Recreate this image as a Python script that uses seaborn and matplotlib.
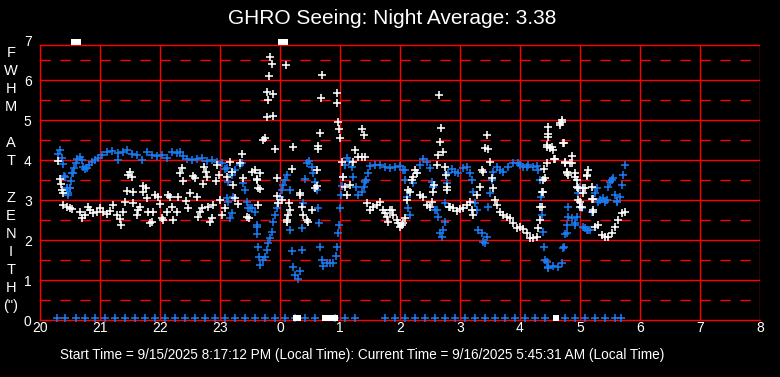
import matplotlib
matplotlib.use("Agg")
import matplotlib.pyplot as plt
import seaborn as sns
import numpy as np

# ---------------- data: (minutes after 20:00, FWHM arcsec) ----------------
hour_labels = ["20", "21", "22", "23", "0", "1", "2", "3", "4", "5", "6", "7", "8"]
y_labels = ["0", "1", "2", "3", "4", "5", "6", "7"]

blue_points = [
    (18.3, 4.14), (20, 4.25), (21.7, 4.06), (23.3, 3.89), (24, 3.6), (25, 3.58), (26.7, 3.31), (26.7, 3.29),
    (28.3, 3.12), (28.3, 3.17), (30, 3.31), (30, 3.29), (31, 3.47), (31.7, 3.67), (32.7, 3.67), (34, 3.79),
    (36, 3.92), (37.3, 4.02), (40, 4.07), (41.7, 4.0), (43.3, 3.83), (45, 3.77), (46.7, 3.79), (49.3, 3.87),
    (51.7, 3.96), (55, 4.0), (58.3, 4.04), (61.7, 4.12), (66.7, 4.21), (71.7, 4.22), (78.3, 4.17), (78, 4.0),
    (83.3, 4.21), (87.3, 4.25), (91.7, 4.14), (96.7, 4.12), (101.7, 4.0), (106.7, 4.21), (111.7, 4.12),
    (116.7, 4.11), (121.7, 4.12), (126.7, 4.04), (131.7, 4.19), (136.7, 4.17), (140, 4.21), (143.3, 4.11),
    (146.7, 4.02), (151.7, 4.0), (156.7, 4.02), (161.7, 4.04), (166.7, 3.98), (171.7, 4.0), (176.7, 3.96),
    (181.7, 3.92), (185, 3.77), (186.7, 3.79), (188.3, 3.46), (191.7, 3.62), (195, 3.75), (200, 3.87),
    (201.7, 3.92), (203.3, 3.43), (205, 3.25), (186.7, 3.04), (188.3, 2.96), (193.3, 3.08), (191.7, 2.67),
    (190, 2.56), (206.7, 2.96), (208.3, 2.79), (211.7, 2.79), (215, 2.71), (216.7, 2.37), (217.3, 2.14),
    (218.3, 1.83), (219.3, 1.58), (216.7, 2.33), (210, 2.79), (220, 1.37), (223.3, 1.5), (225, 1.58),
    (226.7, 1.75), (228.3, 1.92), (230, 2.04), (231.7, 2.21), (233.3, 2.46), (235, 2.62), (236.7, 2.79),
    (238.3, 2.92), (240, 3.08), (241.7, 3.25), (243.3, 3.37), (245, 3.5), (246.7, 3.62), (250, 3.25),
    (250, 2.25), (251.7, 1.72), (252.7, 1.33), (255, 1.12), (258.3, 1.02), (260, 1.23), (261.7, 1.75),
    (262.3, 2.29), (263.3, 2.93), (265, 3.52), (266.7, 3.93), (269.3, 3.98), (271.7, 3.83), (273.3, 3.68),
    (275, 3.46), (276.7, 3.25), (278.3, 2.79), (279.3, 2.43), (280, 1.83), (281.7, 1.5), (283.3, 1.35),
    (286.7, 1.43), (290, 1.43), (293.3, 1.43), (296, 1.6), (297.3, 1.82), (298.3, 2.17), (299.3, 2.37),
    (300, 2.79), (300.7, 3.12), (301.7, 3.35), (303.3, 3.58), (305, 3.87), (306.7, 4.04), (309.3, 3.98),
    (311.7, 3.83), (313.3, 3.58), (316, 3.33), (318.3, 3.12), (321.7, 3.21), (324, 3.33), (326, 3.5),
    (328.3, 3.67), (330, 3.85), (335, 3.87), (340, 3.87), (345, 3.83), (350, 3.81), (355, 3.83), (360, 3.85),
    (363.3, 3.75), (365, 3.75), (365, 3.5), (366.7, 3.08), (368.3, 2.79), (370, 2.62), (373.3, 3.42),
    (376.7, 3.67), (380, 3.87), (383.3, 4.02), (386.7, 3.96), (390, 3.79), (391.7, 3.46), (393.3, 3.33),
    (395, 2.75), (396.7, 2.75), (398.3, 2.58), (400, 2.17), (401.7, 2.08), (403.3, 2.25), (405, 2.92),
    (405, 2.46), (406.7, 3.42), (408.3, 3.67), (411.7, 3.77), (415, 3.71), (418.3, 3.67), (423.3, 3.79),
    (426.7, 3.83), (430, 3.67), (431.7, 3.5), (433.3, 3.21), (435, 2.92), (436.7, 2.75), (438.3, 2.25),
    (441.7, 2.17), (443.3, 1.96), (445, 1.92), (446.7, 2.08), (448.3, 2.83), (450, 3.17), (451.7, 3.5),
    (453.3, 3.71), (456.7, 3.83), (460, 3.75), (463.3, 3.71), (468.3, 3.83), (473.3, 3.92), (478.3, 3.93),
    (480, 3.87), (483.3, 3.83), (486.7, 3.83), (488.3, 3.87), (493.3, 3.83), (496.7, 3.85), (498.3, 3.75),
    (500, 3.5), (500.7, 3.08), (501.7, 2.62), (503.3, 2.21), (504.3, 1.83), (505, 1.5), (506.7, 1.46),
    (508.3, 1.33), (508.3, 1.29), (513.3, 1.35), (518.3, 1.33), (521.7, 1.42), (523.3, 1.79), (524.3, 1.82),
    (525, 2.15), (526.7, 2.17), (526.7, 2.37), (528.3, 2.58), (528.3, 2.83), (531.7, 2.54), (535, 2.37),
    (535, 2.42), (536.7, 2.58), (538.3, 3.17), (540, 3.33), (541.7, 2.79), (543.3, 2.33), (545, 2.29),
    (546.7, 2.25), (548.3, 2.25), (550, 2.25), (551.7, 2.71), (555, 3.17), (556.7, 3.29), (558.3, 2.96),
    (560, 3.0), (563.3, 3.04), (565, 2.96), (566.7, 3.0), (568.3, 3.33), (570, 3.46), (571.7, 3.5),
    (573.3, 3.54), (575, 3.12), (576.7, 2.96), (577.3, 2.98), (580, 3.08), (581.7, 3.37), (583.3, 3.62),
    (585, 3.87), (325, 3.46),
]

white_points = [
    (18.3, 3.97), (20, 3.52), (20.7, 3.39), (21.7, 3.25), (22.7, 3.17), (23.3, 2.87), (26.7, 2.83), (30, 2.79),
    (31.7, 2.77), (40, 2.69), (41.7, 2.56), (45, 2.62), (48.3, 2.83), (50, 2.75), (53.3, 2.67), (56.7, 2.71),
    (60, 2.79), (63.3, 2.71), (66.7, 2.64), (70, 2.72), (73.3, 2.87), (76.7, 2.62), (80, 2.52), (80.7, 2.37),
    (83.3, 2.71), (85, 2.94), (86.7, 3.22), (88.3, 3.62), (90, 3.71), (91.7, 3.58), (92.7, 3.21), (93.3, 2.92),
    (96.7, 2.62), (98.3, 2.75), (100, 2.83), (102.7, 3.21), (103.3, 3.36), (106, 3.29), (107.3, 3.04),
    (110, 2.42), (111.7, 2.46), (108.3, 2.69), (113.3, 2.71), (115, 3.12), (118.3, 3.08), (120, 2.89),
    (121.7, 2.54), (123.3, 2.5), (126.7, 2.71), (128.3, 3.12), (130, 3.08), (131.7, 2.83), (133.3, 2.5),
    (136.7, 2.71), (138.3, 3.08), (140, 3.67), (141.7, 3.79), (143.3, 3.47), (145.7, 2.97), (148.3, 2.79),
    (150, 3.17), (152.7, 3.61), (155, 3.54), (156.7, 3.08), (158.3, 2.58), (160, 2.71), (161.7, 2.79),
    (162.7, 3.39), (164, 3.83), (165.7, 3.71), (166.7, 3.58), (168.3, 2.83), (170, 2.46), (171.7, 2.56),
    (173.3, 2.87), (175.7, 3.47), (176.7, 3.87), (179, 3.62), (180, 3.0), (181.7, 2.62), (185, 2.79),
    (187.3, 3.58), (190, 3.96), (191.7, 3.71), (193.3, 3.37), (195, 3.04), (198.3, 2.89), (200, 3.92),
    (202.3, 4.14), (203.3, 3.56), (206.7, 2.58), (209.3, 2.54), (211.7, 3.71), (215, 3.75), (216.7, 3.5),
    (218.3, 3.29), (218.3, 2.87), (220, 3.67), (220, 3.27), (216.7, 3.52),
    (223.3, 4.5), (225, 4.54), (235, 4.27), (226.7, 5.08), (233.3, 5.1), (228.3, 5.5), (232.7, 5.65),
    (227.3, 5.71), (229.3, 6.1), (231.7, 6.4), (230, 6.57), (236.7, 3.54), (236.7, 3.1), (238.3, 2.92),
    (241.7, 3.0), (249.3, 2.92), (248.3, 2.62), (247.3, 2.46), (250, 2.75), (252.3, 3.77), (253.3, 4.32),
    (246, 6.37), (246.7, 2.5), (260, 3.17), (260, 3.12), (261.7, 2.83), (263.3, 2.62), (266.7, 2.5),
    (268.3, 2.46), (271.7, 2.75), (275, 3.29), (276.7, 3.35), (277.3, 3.75), (278.3, 4.35), (280, 4.67),
    (278.3, 4.27), (281.7, 6.12), (281, 5.54), (296.7, 5.68), (297.3, 5.43), (298.3, 4.96), (299.3, 4.77),
    (300, 4.54), (301.7, 3.96), (302.7, 3.58), (305, 3.33), (306.7, 3.12), (310, 3.37), (313.3, 3.96),
    (315, 4.25), (318.3, 4.08), (321.7, 4.08), (325, 4.08), (321.7, 4.77), (324, 4.62), (326.7, 2.92),
    (330, 2.75), (333.3, 2.83), (336.7, 2.87), (340, 2.94), (343.3, 2.75), (345, 2.67), (346.7, 2.58),
    (348.3, 2.46), (350, 2.75), (351.7, 2.75), (353.3, 2.62), (356.7, 2.5), (358.3, 2.42), (360, 2.33),
    (361.7, 2.37), (363.3, 2.43), (365, 2.54), (366.7, 3.0), (368.3, 3.25), (370, 3.21), (371.7, 3.5),
    (373.3, 3.58), (375, 3.75), (376.7, 3.67), (380, 3.12), (383.3, 3.08), (386.7, 2.87), (390, 2.82),
    (391.7, 2.96), (393.3, 3.21), (394, 3.37), (396.7, 3.87), (398.3, 4.12), (399.3, 5.62), (400, 4.46),
    (400.7, 4.79), (403.3, 4.19), (405, 3.83), (406, 3.62), (406.7, 3.25), (407.3, 3.33), (409.3, 2.83),
    (410, 2.83), (413.3, 2.79), (416.7, 2.73), (420, 2.77), (423.3, 2.79), (426.7, 2.87), (430, 2.96),
    (431.7, 2.75), (433.3, 2.62), (436.7, 3.12), (440, 3.33), (441.7, 3.75), (443.3, 3.71), (446.7, 4.62),
    (445, 4.29), (448.3, 4.27), (450, 3.96), (451.7, 3.54), (453.3, 3.29), (455, 3.0), (456.7, 2.87),
    (460, 2.71), (463.3, 2.62), (466.7, 2.58), (470, 2.54), (473.3, 2.42), (476.7, 2.29), (480, 2.33),
    (483.3, 2.27), (486.7, 2.17), (490, 2.04), (493.3, 2.04), (496.7, 2.08), (498.3, 2.29), (500, 2.5),
    (500, 2.83), (501.7, 2.83), (501.7, 3.21), (503.3, 3.21), (503.3, 3.5), (504, 3.77), (505, 3.54),
    (506.7, 3.92), (506.7, 4.37), (507.3, 4.33), (508.3, 4.58), (508.3, 4.83), (508.3, 4.65), (510, 4.29),
    (511.7, 4.33), (513.3, 4.25), (514, 4.02), (515, 4.02), (520, 4.92), (520, 4.88), (521.7, 4.96),
    (521.7, 5.0), (523.3, 4.42), (524, 4.42), (525, 3.96), (525, 3.93), (526.7, 3.67), (526.7, 3.71),
    (528.3, 3.62), (530, 3.92), (531.7, 3.92), (531.7, 4.1), (535, 3.58), (535, 3.67), (536.7, 3.5),
    (536.7, 3.32), (538.3, 3.29), (538.3, 3.0), (540, 2.96), (540, 2.83), (541.7, 2.83), (543.3, 3.29),
    (543.3, 3.17), (545, 3.29), (546.7, 3.62), (546.7, 3.6), (548.3, 3.75), (551.7, 3.33), (551.7, 3.02),
    (553.3, 3.02), (553.3, 2.75), (553.3, 2.71), (555, 2.33), (558.3, 2.37), (561.7, 2.12), (565, 2.08),
    (568.3, 2.08), (571.7, 2.17), (575, 2.33), (578.3, 2.5), (581.7, 2.67), (585, 2.71),
]

# zero-value row of blue points along the bottom
zero_row_t = [17, 25, 35.7, 45, 55, 65, 75, 85, 95, 105, 115, 125, 135, 145, 155, 165, 175, 185, 195, 205,
              215, 225, 235, 245, 255, 265, 275, 295, 305, 315, 345, 355, 365, 375, 385, 395, 405, 415,
              425, 435, 445, 455, 465, 475, 485, 495, 505, 525, 535, 545, 555, 565, 575, 581]
zero_row_v = [0.05] * len(zero_row_t)

# white points clipped at the bottom (0) and top (7) of the scale
white_low_t = [256, 258, 285, 287, 289, 291, 293, 295, 516]
white_high_t = [34, 36, 38, 241, 243, 245]

title = "GHRO Seeing: Night Average: 3.38"
footer = "Start Time = 9/15/2025 8:17:12 PM (Local Time): Current Time = 9/16/2025 5:45:31 AM (Local Time)"
ylabel_letters = ["F", "W", "H", "M", "", "A", "T", "", "Z", "E", "N", "I", "T", "H", "(\")"]

# ---------------- styling ----------------
sns.set_theme(style="dark")
plt.rcParams['font.family'] = ['Liberation Sans', 'DejaVu Sans']
plt.rcParams['lines.scale_dashes'] = False

BLUE = "#1a7cf2"
RED = "#ff0000"
LW = 1.0
fig = plt.figure(figsize=(7.8, 3.77), dpi=100, facecolor="black")
ax = fig.add_axes([40 / 780, 57 / 377, 720 / 780, 280 / 377])
ax.set_facecolor("black")
ax.set_xlim(0, 12)
ax.set_ylim(0, 7)
TOP = 6.875

# grid
ax.vlines(np.arange(1, 13), 0, TOP, color=RED, lw=LW, zorder=1)
ax.hlines(np.arange(1, 7), 0, 12, color=RED, lw=LW, zorder=1)
ax.hlines([TOP], 0, 12, color=RED, lw=LW, zorder=1)
ax.hlines(np.arange(0.5, 7, 1.0), 0, 12, color=RED, lw=LW, zorder=1,
          linestyles=[(0, (7.4, 7.0))])
for s in ["top", "right"]:
    ax.spines[s].set_visible(False)
for s in ["left", "bottom"]:
    ax.spines[s].set_color(RED)
    ax.spines[s].set_linewidth(LW)
ax.spines["left"].set_bounds(0, TOP)

bt = np.array([p[0] for p in blue_points]) / 60.0
bv = np.array([p[1] for p in blue_points])
wt = np.array([p[0] for p in white_points]) / 60.0
wv = np.array([p[1] for p in white_points])
sns.scatterplot(x=bt, y=bv, marker="+", color=BLUE, s=32, linewidth=1.15, ax=ax, zorder=3)
sns.scatterplot(x=wt, y=wv, marker="+", color="white", s=32, linewidth=1.15, ax=ax, zorder=4)
sns.scatterplot(x=np.array(zero_row_t) / 60.0, y=zero_row_v, marker="+", color=BLUE, s=32,
                linewidth=1.15, ax=ax, zorder=3, clip_on=False)
ax.scatter(np.array(white_low_t) / 60.0, [0.04] * len(white_low_t), marker="s", color="white", s=16,
           linewidths=0, zorder=5, clip_on=False)
ax.scatter(np.array(white_high_t) / 60.0, [6.96] * len(white_high_t), marker="s", color="white", s=16,
           linewidths=0, zorder=5, clip_on=False)

ax.set_xticks(np.arange(0, 13))
ax.set_xticklabels(hour_labels)
ax.set_yticks(np.arange(0, 8))
ax.set_yticklabels(y_labels)
ax.tick_params(axis="both", length=0, colors="white", labelsize=10)
ax.tick_params(axis="x", pad=1)
ax.tick_params(axis="y", pad=6)
ax.set_xlabel("")
ax.set_ylabel("")

fig.text(392 / 780, 1 - 19 / 377, title, color="white", fontsize=15, ha="center", va="center")
fig.text(362 / 780, 1 - 355 / 377, footer, color="white", fontsize=9.8, ha="center", va="center")
for i, letter in enumerate(ylabel_letters):
    if letter:
        fig.text(11 / 780, 1 - (53 + i * 18.07) / 377, letter, color="white", fontsize=10.5,
                 ha="center", va="center")

fig.savefig("out.png", dpi=100, facecolor="black")
